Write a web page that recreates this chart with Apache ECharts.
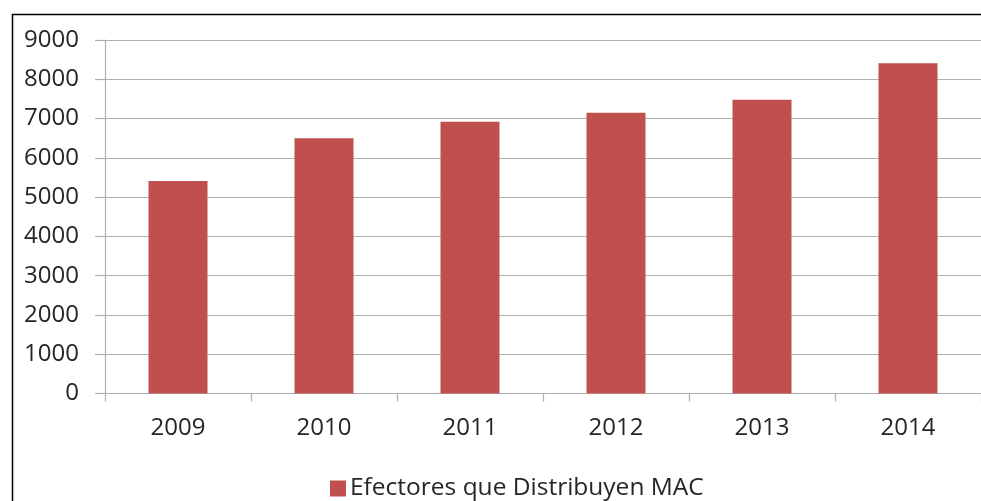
<!DOCTYPE html>
<html>
<head>
<meta charset="utf-8">
<script src="https://cdn.jsdelivr.net/npm/echarts@6/dist/echarts.min.js"></script>
<style>
html,body{margin:0;padding:0;background:#fff;}
#chart{width:981px;height:501px;}
</style>
</head>
<body>
<div id="chart"></div>
<script>
const categories = ['2009', '2010', '2011', '2012', '2013', '2014'];
const seriesName = 'Efectores que Distribuyen MAC';
const values = [5410, 6500, 6920, 7150, 7480, 8410];
const yTicks = [0, 1000, 2000, 3000, 4000, 5000, 6000, 7000, 8000, 9000];

const chart = echarts.init(document.getElementById('chart'), null, {renderer: 'canvas'});
const fontFam = '"Open Sans", "DejaVu Sans", sans-serif';
const textColor = '#262626';
const lineColor = '#b0b0b0';

chart.setOption({
  animation: false,
  backgroundColor: '#ffffff',
  graphic: [
    {type: 'line', shape: {x1: 12, y1: 14.5, x2: 981, y2: 14.5},
     style: {stroke: '#000', lineWidth: 1.5}, silent: true},
    {type: 'line', shape: {x1: 12.5, y1: 14, x2: 12.5, y2: 501},
     style: {stroke: '#000', lineWidth: 1.5}, silent: true}
  ],
  grid: {left: 105, top: 40, width: 878, height: 353.5, containLabel: false},
  legend: {
    left: 325,
    top: 471,
    itemWidth: 16,
    itemHeight: 16,
    icon: 'rect',
    itemGap: 4,
    textStyle: {fontFamily: fontFam, fontSize: 24.5, color: textColor, padding: [0, 0, 0, -1]},
    data: [seriesName]
  },
  xAxis: {
    type: 'category',
    data: categories,
    axisLine: {lineStyle: {color: lineColor, width: 1.2}},
    axisTick: {show: true, length: 8, lineStyle: {color: lineColor, width: 1.2}},
    axisLabel: {fontFamily: fontFam, fontSize: 24, color: textColor, margin: 23}
  },
  yAxis: {
    type: 'value',
    min: yTicks[0],
    max: yTicks[yTicks.length - 1],
    interval: yTicks[1] - yTicks[0],
    axisLine: {show: true, lineStyle: {color: lineColor, width: 1.2}},
    axisTick: {show: true, length: 10, lineStyle: {color: lineColor, width: 1.2}},
    splitLine: {show: true, lineStyle: {color: lineColor, width: 1.2}},
    axisLabel: {fontFamily: fontFam, fontSize: 24, color: textColor, margin: 26,
      formatter: function (v) { return String(v); }}
  },
  series: [{
    name: seriesName,
    type: 'bar',
    data: values,
    barWidth: 59,
    itemStyle: {color: '#c0504d'}
  }]
});
</script>
</body>
</html>
